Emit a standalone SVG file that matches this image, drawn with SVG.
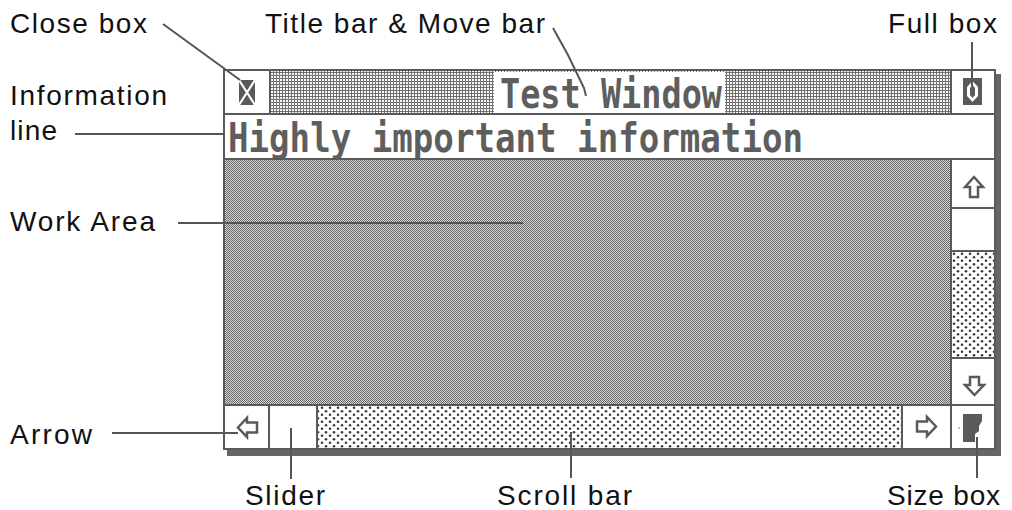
<svg xmlns="http://www.w3.org/2000/svg" width="1012" height="510" viewBox="0 0 1012 510">
  <style>
    .label { font-family: "Liberation Sans", Arial, sans-serif; font-size: 28px; fill: #111; }
    .mono { font-family: "DejaVu Sans Mono", "Liberation Mono", monospace; font-weight: bold; font-size: 40px; fill: #5e5e5e; }
    .cell { stroke: #5a5a5a; stroke-width: 2; }
    .arrow { fill: #fff; stroke: #5a5a5a; stroke-width: 2.5; stroke-linejoin: miter; }
    .icon { fill: #5a5a5a; }
    .conn { fill: none; stroke: #555; stroke-width: 2; }
  </style>
  <defs>
    <!-- grid texture of the title bar -->
    <pattern id="grid" width="3" height="3" patternUnits="userSpaceOnUse">
      <rect width="3" height="3" fill="#707070"/>
      <rect x="1" y="1" width="2" height="2" fill="#f8f8f8"/>
    </pattern>
    <!-- 50% dither of the work area -->
    <pattern id="dither" width="2" height="2" patternUnits="userSpaceOnUse">
      <rect width="2" height="2" fill="#d2d2d2"/>
      <rect width="1" height="1" fill="#6c6c6c"/>
      <rect x="1" y="1" width="1" height="1" fill="#6c6c6c"/>
    </pattern>
    <!-- sparse dots of the scroll tracks -->
    <pattern id="dots" width="8" height="7" patternUnits="userSpaceOnUse">
      <rect width="8" height="7" fill="#fff"/>
      <circle cx="2" cy="1.75" r="1.3" fill="#3c3c3c"/>
      <circle cx="6" cy="5.25" r="1.3" fill="#3c3c3c"/>
    </pattern>
  </defs>

  <rect width="1012" height="510" fill="#fff"/>

  <!-- window drop shadow -->
  <g id="window-shadow" fill="#666">
    <rect x="995" y="74" width="6" height="382"/>
    <rect x="227" y="449" width="774" height="7"/>
  </g>

  <g id="close-box">
    <rect class="cell" x="224" y="70" width="46" height="44" fill="#fff"/>
    <rect class="icon" x="239" y="80" width="16" height="25"/>
    <path d="M239,80 L255,105 M255,80 L239,105" stroke="#fff" stroke-width="2.2"/>
  </g>

  <g id="title-bar">
    <rect class="cell" x="270" y="70" width="681" height="44" fill="url(#grid)"/>
    <rect x="494" y="72" width="231" height="41" fill="#fff"/>
    <text class="mono" x="500" y="108" textLength="222" lengthAdjust="spacingAndGlyphs">Test Window</text>
  </g>

  <g id="full-box">
    <rect class="cell" x="951" y="70" width="44" height="44" fill="#fff"/>
    <rect class="icon" x="963" y="78" width="19" height="27"/>
    <polygon points="972.5,81 978,87 978,96 972.5,102 967,96 967,87" fill="#fff"/>
    <polygon points="972.5,85 975,88 975,95 972.5,98 970,95 970,88" fill="#5a5a5a"/>
  </g>

  <g id="info-line">
    <rect class="cell" x="224" y="114" width="771" height="45" fill="#fff"/>
    <text class="mono" x="228" y="152" textLength="575" lengthAdjust="spacingAndGlyphs">Highly important information</text>
  </g>

  <g id="work-area">
    <rect class="cell" x="224" y="159" width="727" height="246" fill="url(#dither)"/>
  </g>

  <g id="vscroll-up">
    <rect class="cell" x="951" y="159" width="44" height="49" fill="#fff"/>
    <polygon class="arrow" points="974,177 983,187 978,187 978,197 970,197 970,187 965,187"/>
  </g>
  <g id="vscroll-slider">
    <rect class="cell" x="951" y="208" width="44" height="43" fill="#fff"/>
  </g>
  <g id="vscroll-track">
    <rect class="cell" x="951" y="251" width="44" height="107" fill="url(#dots)"/>
  </g>
  <g id="vscroll-down">
    <rect class="cell" x="951" y="358" width="44" height="47" fill="#fff"/>
    <polygon class="arrow" points="974.5,395 984,385 979,385 979,377 970,377 970,385 965,385"/>
  </g>

  <g id="hscroll-left">
    <rect class="cell" x="224" y="405" width="45" height="44" fill="#fff"/>
    <polygon class="arrow" points="238,427.5 247,418 247,422.5 257,422.5 257,432.5 247,432.5 247,437"/>
  </g>
  <g id="hscroll-slider">
    <rect class="cell" x="269" y="405" width="48" height="44" fill="#fff"/>
  </g>
  <g id="hscroll-track">
    <rect class="cell" x="317" y="405" width="585" height="44" fill="url(#dots)"/>
  </g>
  <g id="hscroll-right">
    <rect class="cell" x="902" y="405" width="49" height="44" fill="#fff"/>
    <polygon class="arrow" points="936,426.5 927,417 927,421.5 917,421.5 917,431.5 927,431.5 927,436"/>
  </g>

  <g id="size-box">
    <rect class="cell" x="951" y="405" width="44" height="44" fill="#fff"/>
    <polygon class="icon" points="963,414 982,414 982,421 979,426 979,431 975,434 975,442 963,442"/>
    <circle cx="959" cy="428" r="0.8" fill="#777"/>
  </g>

  <!-- window outline -->
  <rect x="224" y="70" width="771" height="379" fill="none" stroke="#5a5a5a" stroke-width="2"/>

  <g id="connectors">
    <path class="conn" d="M163,24 L240,80"/>
    <path class="conn" d="M553,28 L568,55 L584,88 L586,96"/>
    <path class="conn" d="M972,42 L972,86"/>
    <path class="conn" d="M75,134 L224,134"/>
    <path class="conn" d="M178,223 L523,223"/>
    <path class="conn" d="M112,433 L238,433"/>
    <path class="conn" d="M291,428 L291,479"/>
    <path class="conn" d="M571,432 L571,478"/>
    <path class="conn" d="M977,437 L977,478"/>
  </g>

  <g id="labels">
    <text class="label" x="10" y="33" textLength="137">Close box</text>
    <text class="label" x="265" y="33" textLength="280">Title bar &amp; Move bar</text>
    <text class="label" x="888" y="33" textLength="109">Full box</text>
    <text class="label" x="10" y="105" textLength="157">Information</text>
    <text class="label" x="10" y="140" textLength="47">line</text>
    <text class="label" x="10" y="231" textLength="145">Work Area</text>
    <text class="label" x="10" y="444" textLength="82">Arrow</text>
    <text class="label" x="245" y="505" textLength="80">Slider</text>
    <text class="label" x="497" y="505" textLength="135">Scroll bar</text>
    <text class="label" x="887" y="505" textLength="113">Size box</text>
  </g>
</svg>
